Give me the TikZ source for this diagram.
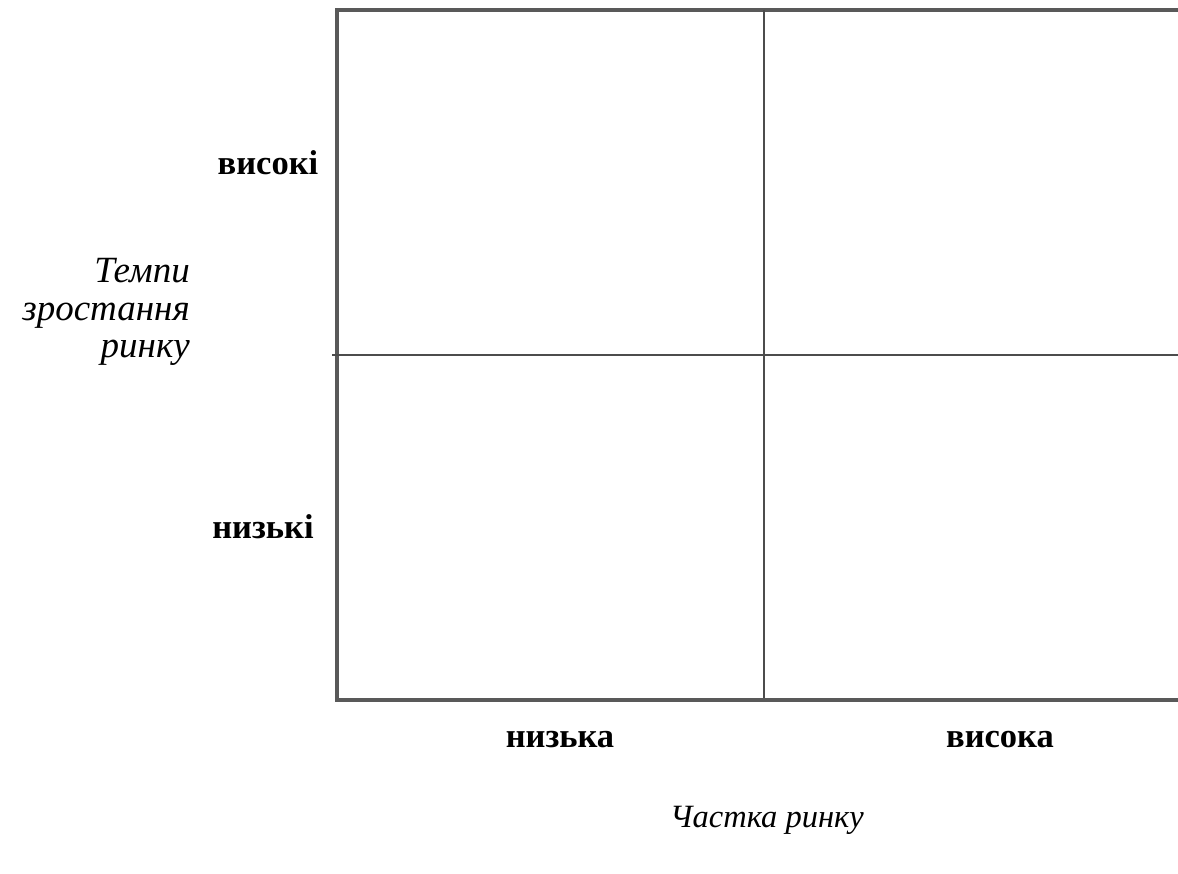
\documentclass[tikz,border=0pt]{standalone}
\usepackage{fontspec}
\setmainfont{Liberation Serif}
\tikzset{
  frame/.style={line width=3.5pt, draw=black!65},
  divider/.style={line width=2pt, draw=black!70},
  lvl/.style={font=\fontsize{34.5}{40}\selectfont\bfseries, inner sep=0pt},
  axis/.style={font=\fontsize{32.5}{38}\selectfont\itshape, inner sep=0pt},
  yaxis/.style={font=\fontsize{37}{37.5}\selectfont\itshape, inner sep=0pt}
}
\begin{document}
\begin{tikzpicture}[x=1pt,y=-1pt]
\useasboundingbox (0,0) rectangle (1178,874);
\coordinate (tl) at (337,10);
\coordinate (tr) at (1180,10);
\coordinate (bl) at (337,700);
\coordinate (br) at (1180,700);
\coordinate (vt) at (764,10);
\coordinate (vb) at (764,698);
\coordinate (hl) at (332,355);
\coordinate (hr) at (1180,355);
\draw[frame] (tr) -- (tl) -- (bl) -- (br);
\draw[divider] (vt) -- (vb);
\draw[divider] (hl) -- (hr);
\node[lvl] (hi) at (268,163) {високі};
\node[lvl] (lo) at (263,527) {низькі};
\node[lvl] (slo) at (560,740) {низька};
\node[lvl] (shi) at (1000,740) {висока};
\node[yaxis, align=right, anchor=east] (ya) at (190,312) {Темпи\\зростання\\ринку};
\node[axis] (xa) at (767,820) {Частка ринку};
\end{tikzpicture}
\end{document}
